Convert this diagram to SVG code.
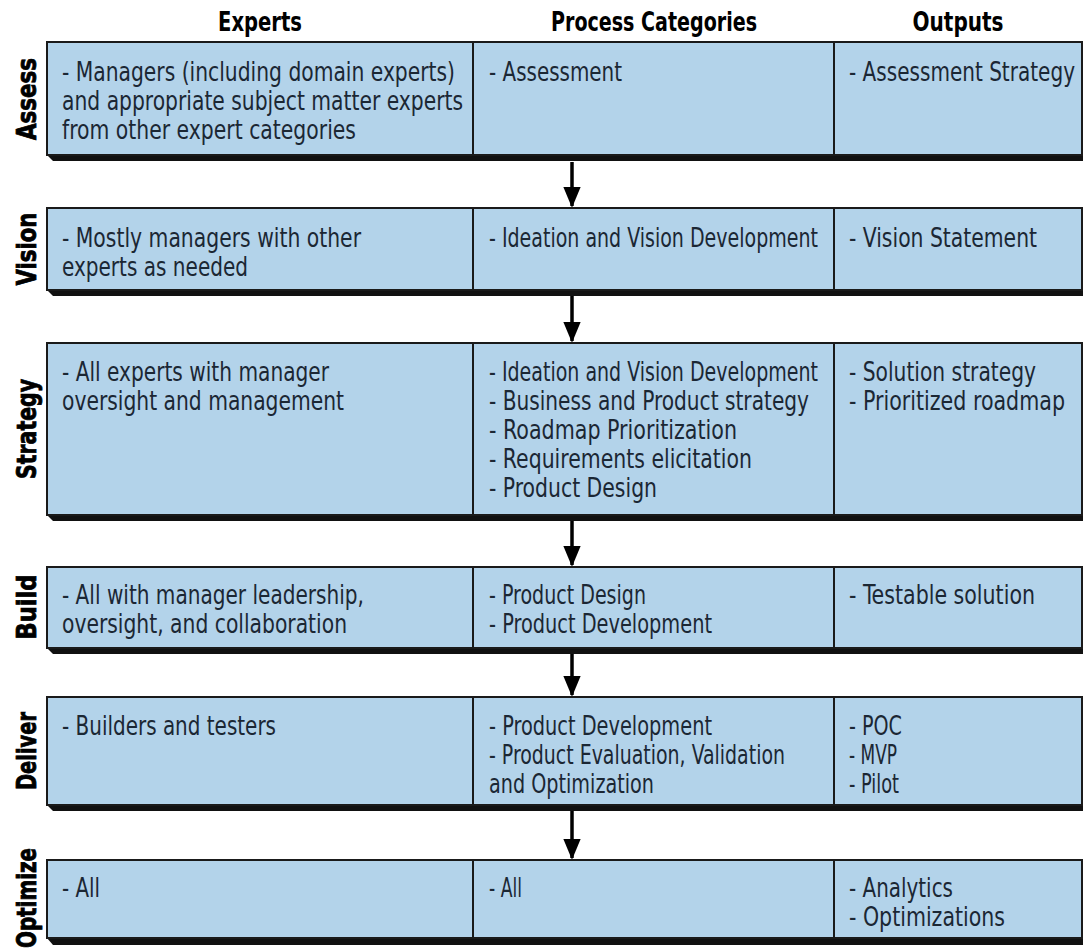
<svg xmlns="http://www.w3.org/2000/svg" width="1086" height="948" viewBox="0 0 1086 948">
<style>
.box{fill:#b3d3ea;stroke:#1a1a1a;stroke-width:2}
.div{stroke:#1a1a1a;stroke-width:2}
.sh{fill:#111}
.t{font-family:"Liberation Sans Narrow","DejaVu Sans Condensed","Liberation Sans",sans-serif;font-size:26px;fill:#1b2734}
.h{font-family:"Liberation Sans Narrow","DejaVu Sans Condensed","Liberation Sans",sans-serif;font-size:27px;font-weight:bold;fill:#000}
.lbl{font-family:"Liberation Sans Narrow","DejaVu Sans Condensed","Liberation Sans",sans-serif;font-size:27px;font-weight:900;fill:#000;stroke:#000;stroke-width:0.8}
.arr{stroke:#000;stroke-width:3.5;fill:none}
</style>
<defs>
<marker id="ah" markerWidth="6" markerHeight="5" refX="5.5" refY="2.5" orient="auto" markerUnits="strokeWidth">
<path d="M0,0 L6,2.5 L0,5 z" fill="#000"/>
</marker>
</defs>
<rect width="1086" height="948" fill="#fff"/>
<g id="headers">
<text class="h" x="260" y="31" text-anchor="middle" textLength="84" lengthAdjust="spacingAndGlyphs">Experts</text>
<text class="h" x="654" y="31" text-anchor="middle" textLength="206" lengthAdjust="spacingAndGlyphs">Process Categories</text>
<text class="h" x="958" y="31" text-anchor="middle" textLength="91" lengthAdjust="spacingAndGlyphs">Outputs</text>
</g>
<g id="connectors">
<line class="arr" x1="572" y1="162" x2="572" y2="206" marker-end="url(#ah)"/>
<line class="arr" x1="572" y1="296" x2="572" y2="341" marker-end="url(#ah)"/>
<line class="arr" x1="572" y1="521" x2="572" y2="565" marker-end="url(#ah)"/>
<line class="arr" x1="572" y1="654" x2="572" y2="695" marker-end="url(#ah)"/>
<line class="arr" x1="572" y1="811" x2="572" y2="858" marker-end="url(#ah)"/>
</g>
<g id="assess">
<polygon class="sh" points="47,155 1083,155 1083,161 53,161"/>
<rect class="box" x="47" y="42" width="1035" height="113"/>
<line class="div" x1="473" y1="42" x2="473" y2="155"/>
<line class="div" x1="834" y1="42" x2="834" y2="155"/>
<text class="lbl" transform="translate(36,99) rotate(-90)" text-anchor="middle" textLength="82" lengthAdjust="spacingAndGlyphs">Assess</text>
<text class="t" x="62" y="81" textLength="393" lengthAdjust="spacingAndGlyphs">- Managers (including domain experts)</text>
<text class="t" x="62" y="110" textLength="401" lengthAdjust="spacingAndGlyphs">and appropriate subject matter experts</text>
<text class="t" x="62" y="139" textLength="294" lengthAdjust="spacingAndGlyphs">from other expert categories</text>
<text class="t" x="489" y="81" textLength="133" lengthAdjust="spacingAndGlyphs">- Assessment</text>
<text class="t" x="849" y="81" textLength="226" lengthAdjust="spacingAndGlyphs">- Assessment Strategy</text>
</g>
<g id="vision">
<polygon class="sh" points="47,290 1083,290 1083,296 53,296"/>
<rect class="box" x="47" y="208" width="1035" height="82"/>
<line class="div" x1="473" y1="208" x2="473" y2="290"/>
<line class="div" x1="834" y1="208" x2="834" y2="290"/>
<text class="lbl" transform="translate(36,249) rotate(-90)" text-anchor="middle" textLength="73" lengthAdjust="spacingAndGlyphs">Vision</text>
<text class="t" x="62" y="247" textLength="299" lengthAdjust="spacingAndGlyphs">- Mostly managers with other</text>
<text class="t" x="62" y="276" textLength="186" lengthAdjust="spacingAndGlyphs">experts as needed</text>
<text class="t" x="489" y="247" textLength="329" lengthAdjust="spacingAndGlyphs">- Ideation and Vision Development</text>
<text class="t" x="849" y="247" textLength="188" lengthAdjust="spacingAndGlyphs">- Vision Statement</text>
</g>
<g id="strategy">
<polygon class="sh" points="47,515 1083,515 1083,521 53,521"/>
<rect class="box" x="47" y="343" width="1035" height="172"/>
<line class="div" x1="473" y1="343" x2="473" y2="515"/>
<line class="div" x1="834" y1="343" x2="834" y2="515"/>
<text class="lbl" transform="translate(36,429) rotate(-90)" text-anchor="middle" textLength="100" lengthAdjust="spacingAndGlyphs">Strategy</text>
<text class="t" x="62" y="381" textLength="267" lengthAdjust="spacingAndGlyphs">- All experts with manager</text>
<text class="t" x="62" y="410" textLength="282" lengthAdjust="spacingAndGlyphs">oversight and management</text>
<text class="t" x="489" y="381" textLength="329" lengthAdjust="spacingAndGlyphs">- Ideation and Vision Development</text>
<text class="t" x="489" y="410" textLength="320" lengthAdjust="spacingAndGlyphs">- Business and Product strategy</text>
<text class="t" x="489" y="439" textLength="248" lengthAdjust="spacingAndGlyphs">- Roadmap Prioritization</text>
<text class="t" x="489" y="468" textLength="263" lengthAdjust="spacingAndGlyphs">- Requirements elicitation</text>
<text class="t" x="489" y="497" textLength="168" lengthAdjust="spacingAndGlyphs">- Product Design</text>
<text class="t" x="849" y="381" textLength="187" lengthAdjust="spacingAndGlyphs">- Solution strategy</text>
<text class="t" x="849" y="410" textLength="216" lengthAdjust="spacingAndGlyphs">- Prioritized roadmap</text>
</g>
<g id="build">
<polygon class="sh" points="47,648 1083,648 1083,654 53,654"/>
<rect class="box" x="47" y="567" width="1035" height="81"/>
<line class="div" x1="473" y1="567" x2="473" y2="648"/>
<line class="div" x1="834" y1="567" x2="834" y2="648"/>
<text class="lbl" transform="translate(36,607) rotate(-90)" text-anchor="middle" textLength="65" lengthAdjust="spacingAndGlyphs">Build</text>
<text class="t" x="62" y="604" textLength="302" lengthAdjust="spacingAndGlyphs">- All with manager leadership,</text>
<text class="t" x="62" y="633" textLength="285" lengthAdjust="spacingAndGlyphs">oversight, and collaboration</text>
<text class="t" x="489" y="604" textLength="157" lengthAdjust="spacingAndGlyphs">- Product Design</text>
<text class="t" x="489" y="633" textLength="223" lengthAdjust="spacingAndGlyphs">- Product Development</text>
<text class="t" x="849" y="604" textLength="186" lengthAdjust="spacingAndGlyphs">- Testable solution</text>
</g>
<g id="deliver">
<polygon class="sh" points="47,805 1083,805 1083,811 53,811"/>
<rect class="box" x="47" y="697" width="1035" height="108"/>
<line class="div" x1="473" y1="697" x2="473" y2="805"/>
<line class="div" x1="834" y1="697" x2="834" y2="805"/>
<text class="lbl" transform="translate(36,751) rotate(-90)" text-anchor="middle" textLength="78" lengthAdjust="spacingAndGlyphs">Deliver</text>
<text class="t" x="62" y="735" textLength="214" lengthAdjust="spacingAndGlyphs">- Builders and testers</text>
<text class="t" x="489" y="735" textLength="223" lengthAdjust="spacingAndGlyphs">- Product Development</text>
<text class="t" x="489" y="764" textLength="296" lengthAdjust="spacingAndGlyphs">- Product Evaluation, Validation</text>
<text class="t" x="489" y="793" textLength="165" lengthAdjust="spacingAndGlyphs">and Optimization</text>
<text class="t" x="849" y="735" textLength="53" lengthAdjust="spacingAndGlyphs">- POC</text>
<text class="t" x="849" y="764" textLength="48" lengthAdjust="spacingAndGlyphs">- MVP</text>
<text class="t" x="849" y="793" textLength="50" lengthAdjust="spacingAndGlyphs">- Pilot</text>
</g>
<g id="optimize">
<polygon class="sh" points="47,938 1083,938 1083,945 53,945"/>
<rect class="box" x="47" y="860" width="1035" height="78"/>
<line class="div" x1="473" y1="860" x2="473" y2="938"/>
<line class="div" x1="834" y1="860" x2="834" y2="938"/>
<text class="lbl" transform="translate(36,898) rotate(-90)" text-anchor="middle" textLength="100" lengthAdjust="spacingAndGlyphs">Optimize</text>
<text class="t" x="62" y="897" textLength="38" lengthAdjust="spacingAndGlyphs">- All</text>
<text class="t" x="489" y="897" textLength="33" lengthAdjust="spacingAndGlyphs">- All</text>
<text class="t" x="849" y="897" textLength="104" lengthAdjust="spacingAndGlyphs">- Analytics</text>
<text class="t" x="849" y="926" textLength="156" lengthAdjust="spacingAndGlyphs">- Optimizations</text>
</g>
</svg>
